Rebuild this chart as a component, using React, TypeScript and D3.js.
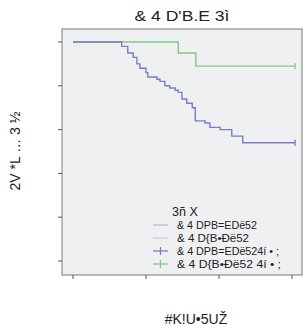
import React from "react";
import * as d3 from "d3";

// Kaplan-Meier style curves (time, survival)
const purpleTimes = [0, 8.0, 9.0, 9.9, 10.5, 11.0, 12.0, 12.3, 13.8, 14.3, 15.1, 15.9, 16.8, 17.3, 17.9, 18.7, 19.6, 20.1, 21.7, 22.5, 24.2, 26.1, 27.9];
const purpleSurv = [1, 0.98, 0.95, 0.93, 0.9, 0.88, 0.86, 0.84, 0.83, 0.82, 0.8, 0.79, 0.78, 0.77, 0.74, 0.72, 0.7, 0.64, 0.63, 0.61, 0.6, 0.57, 0.54];
const greenTimes = [0, 17.3, 20.2];
const greenSurv = [1, 0.95, 0.89];
const endTime = 36.5;

const xTicks = [0, 12, 24, 36];
const yTicks = [0, 0.2, 0.4, 0.6, 0.8, 1];

const title = "& 4 D'B.E   3ì";
const yLabel = "2V *L … 3 ½";
const xLabel = "#K!U•5UŽ";
const legendTitle = "3ñ X";
const legendLabels = ["& 4 DPB=EDë52", "& 4 D{B•Đë52", "& 4 DPB=EDë524í • ;", "& 4 D{B•Đë52 4í • ;"];

const purple = "#7c7cc4";
const green = "#84c884";

export default function App() {
  const left = 62, right = 302, top = 29, bottom = 275;
  const x = d3.scaleLinear().domain([0, 36]).range([73, 292]);
  const y = d3.scaleLinear().domain([0, 1]).range([261, 42]);

  const stepLine = d3.line<[number, number]>()
    .x((d) => x(d[0]))
    .y((d) => y(d[1]))
    .curve(d3.curveStepAfter);

  const purplePts: [number, number][] = purpleTimes.map((t, i) => [t, purpleSurv[i]]);
  purplePts.push([endTime, purpleSurv[purpleSurv.length - 1]]);
  const greenPts: [number, number][] = greenTimes.map((t, i) => [t, greenSurv[i]]);
  greenPts.push([endTime, greenSurv[greenSurv.length - 1]]);

  const font = "'Liberation Sans', Arial, sans-serif";
  const legendColors = [purple, green, purple, green];
  const legendWidths = [80, 72, 102, 104];

  return (
    <svg width={305} height={330} style={{ position: "absolute", left: 0, top: 0 }} fontFamily={font}>
      <rect x={0} y={0} width={305} height={330} fill="#ffffff" />
      <rect x={left} y={top} width={right - left} height={bottom - top} fill="#eff0f2" stroke="#7a7a7a" strokeWidth={1} />
      <text x={182} y={21} textAnchor="middle" fontSize={14} fill="#222" textLength={95} lengthAdjust="spacingAndGlyphs">{title}</text>
      <text transform={`translate(20,151) rotate(-90)`} textAnchor="middle" fontSize={14} fill="#222">{yLabel}</text>
      <text x={196} y={324} textAnchor="middle" fontSize={14} fill="#222">{xLabel}</text>

      {yTicks.map((t) => (
        <line key={"y" + t} x1={left - 4} x2={left} y1={y(t)} y2={y(t)} stroke="#555" />
      ))}
      {xTicks.map((t) => (
        <line key={"x" + t} x1={x(t)} x2={x(t)} y1={bottom} y2={bottom + 4} stroke="#555" />
      ))}

      <path d={stepLine(greenPts) || ""} fill="none" stroke={green} strokeWidth={1.4} />
      <path d={stepLine(purplePts) || ""} fill="none" stroke={purple} strokeWidth={1.4} />
      <line x1={x(endTime)} x2={x(endTime)} y1={y(greenSurv[greenSurv.length - 1]) - 3} y2={y(greenSurv[greenSurv.length - 1]) + 3} stroke={green} strokeWidth={1.4} />
      <line x1={x(endTime)} x2={x(endTime)} y1={y(purpleSurv[purpleSurv.length - 1]) - 3} y2={y(purpleSurv[purpleSurv.length - 1]) + 3} stroke={purple} strokeWidth={1.4} />

      <text x={172} y={216} fontSize={12.5} fill="#222">{legendTitle}</text>
      {legendLabels.map((lab, i) => {
        const ly = 229 + i * 13;
        return (
          <g key={lab}>
            <line x1={153} x2={168} y1={ly - 4} y2={ly - 4} stroke={legendColors[i]} strokeWidth={i < 2 ? 1 : 1.3} opacity={i < 2 ? 0.6 : 1} />
            {i >= 2 && <line x1={160.5} x2={160.5} y1={ly - 8} y2={ly} stroke={legendColors[i]} strokeWidth={1.2} />}
            <text x={177} y={ly} fontSize={11.5} fill="#222" textLength={legendWidths[i]} lengthAdjust="spacingAndGlyphs">{lab}</text>
          </g>
        );
      })}
    </svg>
  );
}
